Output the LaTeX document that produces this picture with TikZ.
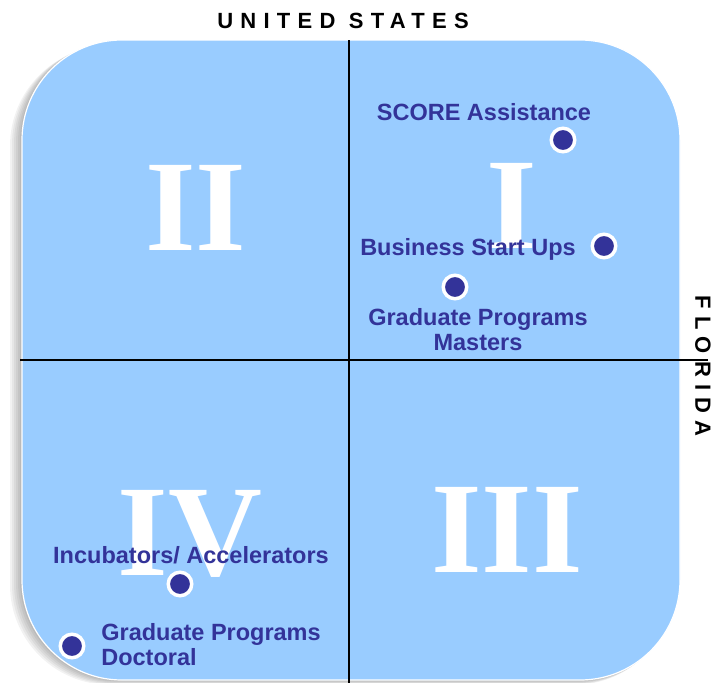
\documentclass[tikz,border=0pt]{standalone}
\usepackage{fontspec}
\setmainfont{Liberation Sans}
\newfontfamily\romanfont{Liberation Serif}
\newfontfamily\spacedfont[LetterSpace=33]{Liberation Sans}
\usetikzlibrary{positioning}
\definecolor{quadblue}{HTML}{99CCFF}
\definecolor{dotblue}{HTML}{333399}

\begin{document}
\begin{tikzpicture}[x=1pt,y=-1pt,every node/.style={outer sep=0pt},
		board/.style={fill=quadblue,draw=white,line width=1.2pt,rounded corners=100pt},
		shade/.style={fill=black,opacity=0.05,rounded corners=100pt},
		axis/.style={line width=2.7pt},
		numeral/.style={text=white,anchor=base,font=\romanfont\bfseries\fontsize{130}{130}\selectfont},
		item/.style={text=dotblue,anchor=base,align=center,font=\bfseries\fontsize{23.5}{25}\selectfont},
		dot/.style={circle,fill=dotblue,draw=white,line width=3.5pt,minimum size=23.5pt,inner sep=0pt},
		heading/.style={font=\spacedfont\bfseries\fontsize{22}{22}\selectfont}]
		
		\useasboundingbox (0,0) rectangle (721,683);
		
		% soft shadow to the lower left
		\foreach \S in {2,4,...,12}
		{
			\path[shade] (22-\S,40+0.5*\S) rectangle (680-0.5*\S,680+0.4*\S);
		}
		\path[board] (22,40) rectangle (680,680);
		
		\coordinate (top) at (349,40);
		\coordinate (bottom) at (349,683);
		\coordinate (left) at (20,360);
		\coordinate (right) at (708,360);
		\draw[axis] (top) -- (bottom);
		\draw[axis] (left) -- (right);
		
		\node[heading,anchor=base] (us) at (343,28) {UNITED STATES};
		\node[heading,rotate=-90] (fl) at (703,366) {FLORIDA};
		
		\node[numeral] (q1) at (512,248) {I};
		\node[numeral] (q2) at (196,250) {II};
		\node[numeral] (q3) at (507,572) {III};
		\node[numeral] (q4) at (190,575) {IV};
		
		\node[item] (score) at (484,120) {SCORE Assistance};
		\node[item] (startups) at (468,255) {Business Start Ups};
		\node[item] (masters) at (478,350) {Graduate Programs\\Masters};
		\node[item] (incub) at (191,563) {Incubators/ Accelerators};
		\node[item,anchor=base west,align=left] (doctoral) at (98,665) {Graduate Programs\\Doctoral};
		
		\foreach \N/\X/\Y in {score/563/140,startups/604/246,masters/455/287,incub/180/584,doctoral/72/646}
		{
			\node[dot] (d-\N) at (\X,\Y) {};
		}
		
	\end{tikzpicture}
\end{document}
